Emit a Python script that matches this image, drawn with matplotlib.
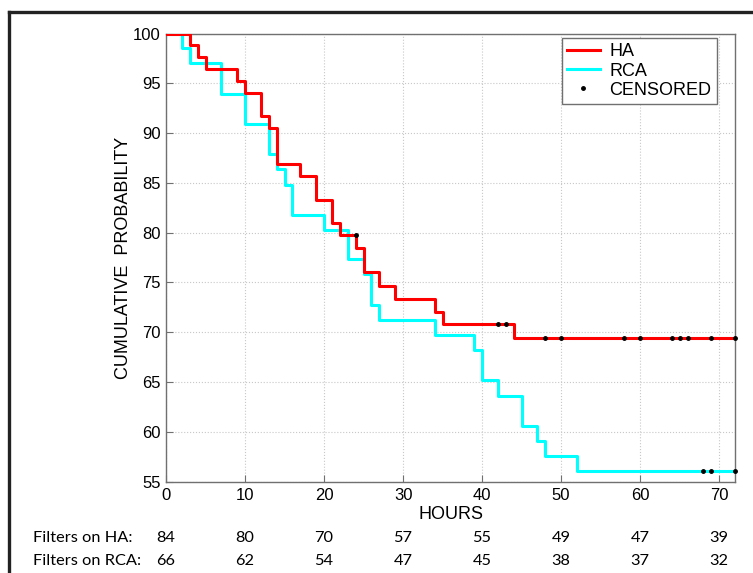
import numpy as np
import matplotlib
matplotlib.use("Agg")
import matplotlib.pyplot as plt
import matplotlib.transforms as mtransforms
from matplotlib.lines import Line2D

## Kaplan-Meier curves (hours, cumulative probability %)
ha_times = [0, 3, 4, 5, 9, 10, 12, 13, 14, 17, 19, 21, 22, 24, 25, 27, 29, 34, 35, 44, 72]
ha_surv = [100, 98.8, 97.6, 96.4, 95.2, 94.0, 91.7, 90.5, 86.9, 85.7, 83.3, 81.0, 79.8,
           78.5, 76.0, 74.6, 73.3, 72.0, 70.8, 69.4, 69.4]
ha_cens_t = [24, 42, 43, 48, 50, 58, 60, 64, 65, 66, 69, 72]
ha_cens_s = [79.8, 70.8, 70.8, 69.4, 69.4, 69.4, 69.4, 69.4, 69.4, 69.4, 69.4, 69.4]

rca_times = [0, 2, 3, 7, 10, 13, 14, 15, 16, 20, 23, 25, 26, 27, 34, 39, 40, 42, 45, 47, 48, 52, 72]
rca_surv = [100, 98.5, 97.0, 93.9, 90.9, 87.9, 86.4, 84.8, 81.8, 80.3, 77.3, 75.8, 72.7,
            71.2, 69.7, 68.2, 65.2, 63.6, 60.6, 59.1, 57.6, 56.1, 56.1]
rca_cens_t = [68, 69, 72]
rca_cens_s = [56.1, 56.1, 56.1]

# numbers at risk under the axis
risk_hours = [0, 10, 20, 30, 40, 50, 60, 70]
risk_ha = [84, 80, 70, 57, 55, 49, 47, 39]
risk_rca = [66, 62, 54, 47, 45, 38, 37, 32]

plt.rcParams['font.family'] = ['Liberation Sans', 'DejaVu Sans']

fig = plt.figure(figsize=(7.53, 5.73), dpi=100)
ax = fig.add_axes([166/753, 1-481.5/573, (735-166)/753, (481.5-33.5)/573])

ax.plot(ha_times, ha_surv, drawstyle='steps-post', color='#ff0000', lw=2.2, label='HA', zorder=3)
ax.plot(rca_times, rca_surv, drawstyle='steps-post', color='#00ffff', lw=2.2, label='RCA', zorder=2)
ax.plot(ha_cens_t, ha_cens_s, 'k.', ms=5, zorder=4, clip_on=False)
ax.plot(rca_cens_t, rca_cens_s, 'k.', ms=5, zorder=4, clip_on=False)

ax.set_xlim(0, 72)
ax.set_ylim(55, 100)
ax.set_xticks(risk_hours)
ax.set_yticks(np.arange(55, 101, 5))
ax.grid(True, linestyle=':', color='#c8c8c8', lw=0.8)
ax.tick_params(direction='in', length=5, color='#707070', labelsize=12, pad=4)
ax.tick_params(axis='x', pad=5)
for s in ax.spines.values():
    s.set_color('#707070')
    s.set_linewidth(1.0)

ax.set_xlabel('HOURS', fontsize=13, labelpad=2)
ax.set_ylabel('CUMULATIVE  PROBABILITY', fontsize=13, labelpad=0.5)

handles = [Line2D([], [], color='#ff0000', lw=2.2),
           Line2D([], [], color='#00ffff', lw=2.2),
           Line2D([], [], color='k', marker='.', ls='none', ms=5)]
leg = ax.legend(handles, ['HA', 'RCA', 'CENSORED'], loc='upper right',
                bbox_to_anchor=((717-166)/569, (481.5-38)/448), borderaxespad=0,
                fontsize=13, fancybox=False, framealpha=1, edgecolor='#707070',
                handlelength=1.8, borderpad=0.3, labelspacing=0.12, handletextpad=0.55)
leg.get_frame().set_linewidth(1.0)

# at-risk table
tfont = dict(fontsize=11.8, family='Lato', va='center')
trans = mtransforms.blended_transform_factory(ax.transData, fig.transFigure)
fig.text(33/753, 1-538/573, 'Filters on HA:', **tfont)
fig.text(33/753, 1-561/573, 'Filters on RCA:', **tfont)
for h, a, b in zip(risk_hours, risk_ha, risk_rca):
    ax.text(h, 1-538/573, str(a), transform=trans, ha='center', **tfont)
    ax.text(h, 1-561/573, str(b), transform=trans, ha='center', **tfont)

# outer frame (top and left edges only)
fig.add_artist(Line2D([8.5/753, 1], [1-11.5/573, 1-11.5/573], color='#222222', lw=2.4))
fig.add_artist(Line2D([8.5/753, 8.5/753], [0, 1-11.5/573], color='#222222', lw=2.4))

fig.savefig('out.png', dpi=100)
